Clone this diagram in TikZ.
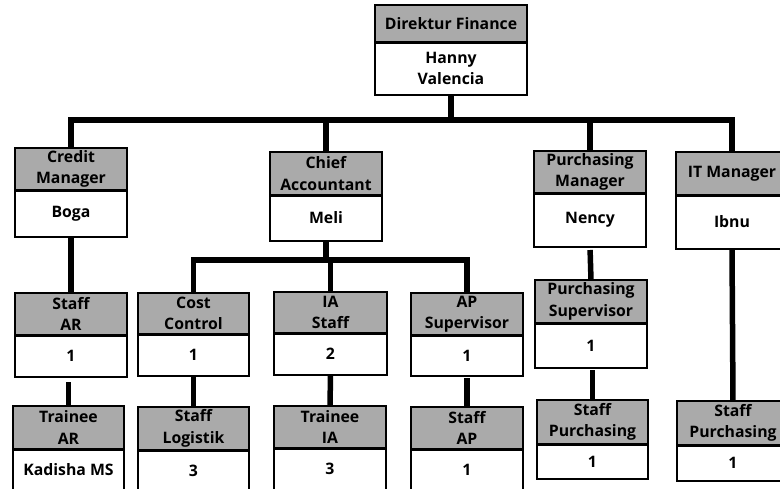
\documentclass[tikz,border=0pt]{standalone}
\usepackage{fontspec}
\setmainfont{Open Sans}
\definecolor{hdrgray}{RGB}{170,170,170}
\tikzset{
  boxbase/.style={draw=black, line width=1.6pt, inner sep=0pt, outer sep=0pt, align=center,
    font=\fontsize{15.8}{21.5}\selectfont\bfseries, text=black},
  hdr/.style={boxbase, fill=hdrgray},
  bdy/.style={boxbase, fill=white},
  divider/.style={line width=3pt},
  conn/.style={line width=5.5pt, line join=miter, draw=black},
}
\newcommand\orgbox[8]{%
  \node[hdr, minimum width={#3-#2}, minimum height={#5-#4}] (#1h) at ({(#2+#3)/2},{(#4+#5)/2}) {#7};
  \node[bdy, minimum width={#3-#2}, minimum height={#6-#5}] (#1b) at ({(#2+#3)/2},{(#5+#6)/2}) {#8};
  \draw[divider] (#1h.south west) -- (#1h.south east);
}
\begin{document}
\begin{tikzpicture}[x=1pt,y=-1pt]
\useasboundingbox (0,0) rectangle (780,488);
% boxes
\orgbox{dir}{375}{527}{5}{42}{95}{Direktur Finance}{Hanny\\Valencia}
\orgbox{cm}{15}{127}{148}{190}{237}{Credit\\Manager}{Boga}
\orgbox{ca}{270}{382}{152}{195}{241}{Chief\\Accountant}{Meli}
\orgbox{pm}{534}{646}{151}{193}{247}{Purchasing\\Manager}{Nency}
\orgbox{itm}{676}{788}{152}{195}{249}{IT Manager}{Ibnu}
\orgbox{sar}{15}{127}{293}{335}{377}{Staff\\AR}{1}
\orgbox{cc}{138}{249}{293}{334}{376}{Cost\\Control}{1}
\orgbox{ias}{274}{387}{292}{333}{375}{IA\\Staff}{2}
\orgbox{aps}{411}{523}{293}{335}{376}{AP\\Supervisor}{1}
\orgbox{ps}{535}{647}{280}{323}{368}{Purchasing\\Supervisor}{1}
\orgbox{tar}{13}{124}{406}{449}{491}{Trainee\\AR}{Kadisha MS}
\orgbox{sl}{138}{249}{407}{450}{492}{Staff\\Logistik}{3}
\orgbox{tia}{274}{386}{406}{448}{490}{Trainee\\IA}{3}
\orgbox{sap}{411}{523}{407}{449}{491}{Staff\\AP}{1}
\orgbox{spa}{537}{648}{400}{444}{479}{Staff\\Purchasing}{1}
\orgbox{spb}{677}{789}{401}{445}{481}{Staff\\Purchasing}{1}
% buses
\coordinate (bus) at (0,120);
\coordinate (bustwo) at (0,260);
\draw[conn] (cmh.north) -- (cmh.north |- bus) -- (itmh.north |- bus) -- (itmh.north);
\draw[conn] (dirb.south) -- (dirb.south |- bus);
\draw[conn] (cah.north) -- (cah.north |- bus);
\draw[conn] (pmh.north) -- (pmh.north |- bus);
\draw[conn] (cch.north) -- (cch.north |- bustwo) -- (apsh.north |- bustwo) -- (apsh.north);
\draw[conn] (cab.south) -- (cab.south |- bustwo);
\draw[conn] (iash.north) -- (iash.north |- bustwo);
% verticals
\draw[conn] (cmb.south) -- (sarh.north);
\draw[conn, shorten <=5pt] (tarh.north |- sarb.south) -- (tarh.north);
\draw[conn] (ccb.south) -- (slh.north);
\draw[conn] (iasb.south) -- (tiah.north);
\draw[conn, shorten <=2pt] (apsb.south) -- (saph.north);
\draw[conn, shorten <=3pt] (pmb.south) -- (psh.north);
\draw[conn, shorten <=2pt] (spah.north |- psb.south) -- (spah.north);
\draw[conn] (itmb.south) -- (spbh.north);
\end{tikzpicture}
\end{document}
